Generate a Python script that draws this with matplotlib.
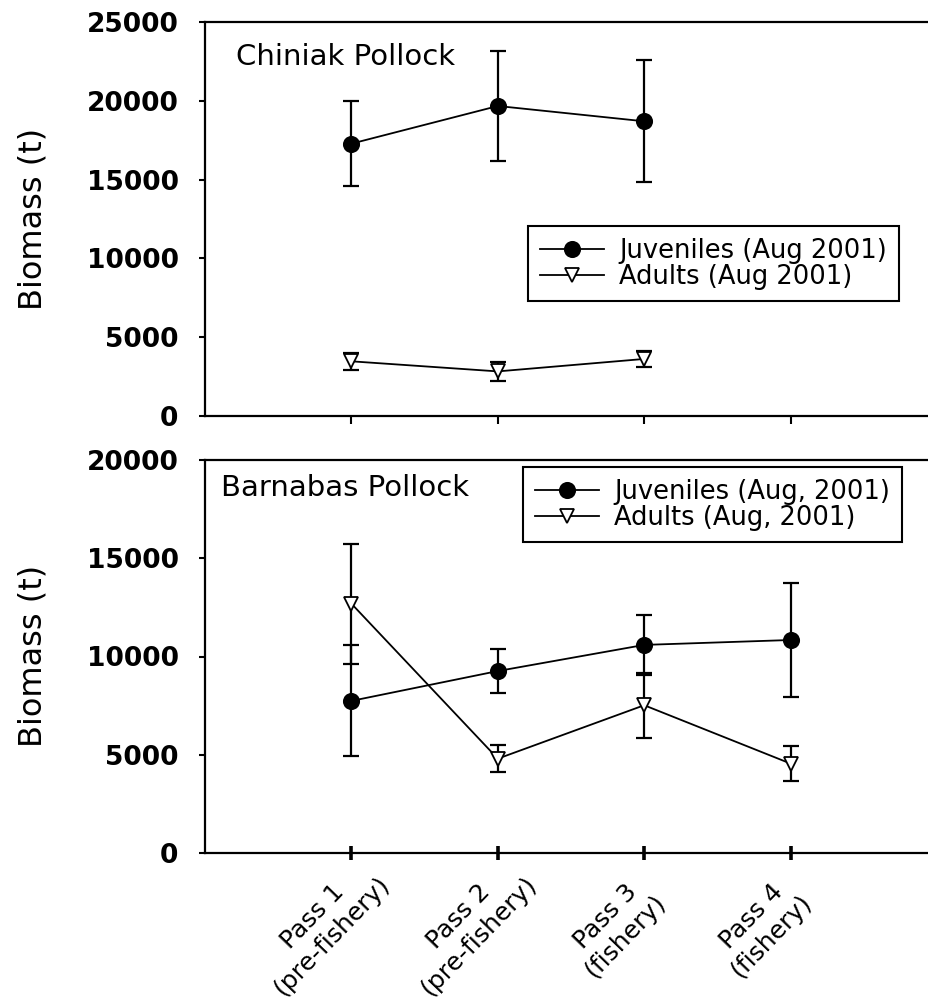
import matplotlib.pyplot as plt
from matplotlib.transforms import ScaledTranslation

# x categories
passes = ['Pass 1\n(pre-fishery)', 'Pass 2\n(pre-fishery)',
          'Pass 3\n(fishery)', 'Pass 4\n(fishery)']
x_chiniak = [1, 2, 3]
x_barnabas = [1, 2, 3, 4]

# Chiniak pollock biomass (t) with error bars
chiniak_juv = [17280, 19670, 18700]
chiniak_juv_err = [2700, 3500, 3870]
chiniak_adult = [3470, 2830, 3620]
chiniak_adult_err = [550, 600, 480]

# Barnabas pollock biomass (t) with error bars
barnabas_juv = [7740, 9260, 10590, 10840]
barnabas_juv_err = [2820, 1110, 1540, 2900]
barnabas_adult = [12690, 4800, 7520, 4550]
barnabas_adult_err = [3050, 690, 1650, 900]

W, H = 929, 1000
fig = plt.figure(figsize=(W / 100, H / 100), dpi=100)

# both panels run off the right edge like the original
ax1 = fig.add_axes([205 / W, 1 - 416 / H, 732 / W, 394 / H])
ax2 = fig.add_axes([205 / W, 1 - 853 / H, 732 / W, 393 / H])


def draw_series(ax, x, y, err, marker, face, label):
    ax.errorbar(x, y, yerr=err, fmt='none', ecolor='black', elinewidth=1.6,
                capsize=6, capthick=1.6, zorder=2)
    ax.plot(x, y, '-', marker=marker, color='black', mfc=face, mec='black',
            ms=11 if marker == 'o' else 10, mew=1.3, lw=1.3, label=label, zorder=3)


draw_series(ax1, x_chiniak, chiniak_juv, chiniak_juv_err, 'o', 'black',
            'Juveniles (Aug 2001)')
draw_series(ax1, x_chiniak, chiniak_adult, chiniak_adult_err, 'v', 'white',
            'Adults (Aug 2001)')

draw_series(ax2, x_barnabas, barnabas_juv, barnabas_juv_err, 'o', 'black',
            'Juveniles (Aug, 2001)')
draw_series(ax2, x_barnabas, barnabas_adult, barnabas_adult_err, 'v', 'white',
            'Adults (Aug, 2001)')

ax1.set_ylim(0, 25000)
ax1.set_yticks(range(0, 25001, 5000))
ax2.set_ylim(0, 20000)
ax2.set_yticks(range(0, 20001, 5000))

for ax in (ax1, ax2):
    ax.set_xlim(0, 5)
    ax.set_xticks([1, 2, 3, 4])
    for s in ax.spines.values():
        s.set_linewidth(1.6)
    ax.tick_params(axis='y', direction='out', length=4, width=1.5,
                   labelsize=19, pad=15)
    for lab in ax.get_yticklabels():
        lab.set_fontweight('bold')

ax1.tick_params(axis='x', direction='out', length=6, width=1.5,
                labelbottom=False)
ax2.tick_params(axis='x', direction='inout', length=10, width=2.6, pad=0)
ax2.set_xticklabels(passes, rotation=46, ha='center', va='center',
                    rotation_mode='anchor', fontsize=18, linespacing=1.2)
shift = ScaledTranslation(-0.29, -0.66, fig.dpi_scale_trans)
for lab in ax2.get_xticklabels():
    lab.set_transform(lab.get_transform() + shift)

# panel names
fig.text(236 / W, 1 - 57 / H, 'Chiniak Pollock', fontsize=21, va='center')
fig.text(221 / W, 1 - 488 / H, 'Barnabas Pollock', fontsize=21, va='center')

# y labels
fig.text(33 / W, 1 - 219 / H, 'Biomass (t)', rotation=90, fontsize=23,
         ha='center', va='center')
fig.text(33 / W, 1 - 656 / H, 'Biomass (t)', rotation=90, fontsize=23,
         ha='center', va='center')

# legends
for ax, ux, uy in ((ax1, 528, 226), (ax2, 523, 467)):
    leg = ax.legend(loc='upper left', bbox_to_anchor=(ux / W, 1 - uy / H),
                    bbox_transform=fig.transFigure, fontsize=18.5, frameon=True,
                    fancybox=False, framealpha=1, edgecolor='black',
                    borderaxespad=0, handlelength=2.5, handletextpad=0.6,
                    labelspacing=0.0, borderpad=0.45)
    leg.get_frame().set_linewidth(1.5)

fig.savefig('out.png', dpi=100)
